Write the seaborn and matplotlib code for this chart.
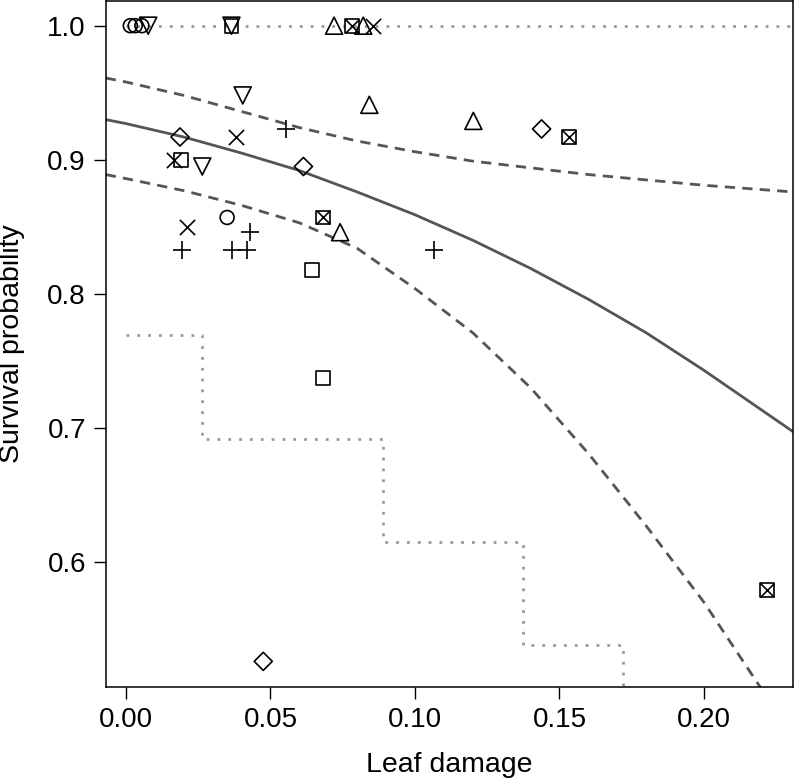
import numpy as np
import pandas as pd
import matplotlib
matplotlib.use("Agg")
import matplotlib.pyplot as plt
import seaborn as sns

# Observed survival by plot, one list pair per plotting symbol
circle_x = [0.0015, 0.0032, 0.0055, 0.035]
circle_y = [1.0, 1.0, 1.0, 0.857]
tri_up_x = [0.0720, 0.0821, 0.0842, 0.1202, 0.0741]
tri_up_y = [1.0, 1.0, 0.941, 0.929, 0.846]
plus_x = [0.0553, 0.0429, 0.0195, 0.0368, 0.0420, 0.1067]
plus_y = [0.923, 0.846, 0.833, 0.833, 0.833, 0.833]
cross_x = [0.0856, 0.0381, 0.0167, 0.0210]
cross_y = [1.0, 0.917, 0.900, 0.850]
diamond_x = [0.0187, 0.0614, 0.1438, 0.0475]
diamond_y = [0.917, 0.895, 0.923, 0.526]
tri_down_x = [0.0077, 0.0365, 0.0404, 0.0264]
tri_down_y = [1.0, 1.0, 0.948, 0.895]
square_x = [0.0365, 0.0190, 0.0645, 0.0683]
square_y = [1.0, 0.900, 0.818, 0.737]
boxx_x = [0.0781, 0.1534, 0.0683, 0.2217]
boxx_y = [1.0, 0.917, 0.857, 0.579]

# Fitted survival curve and its confidence band
fit_x = [-0.007, 0.00, 0.02, 0.04, 0.06, 0.08, 0.10, 0.12, 0.14, 0.16, 0.18, 0.20, 0.231]
fit_y = [0.930, 0.927, 0.917, 0.905, 0.892, 0.876, 0.859, 0.840, 0.819, 0.796, 0.771, 0.743, 0.697]
upper_y = [0.961, 0.958, 0.948, 0.936, 0.924, 0.914, 0.906, 0.899, 0.894, 0.889, 0.885, 0.881, 0.876]
lower_x = [-0.007, 0.00, 0.02, 0.04, 0.06, 0.08, 0.10, 0.12, 0.14, 0.16, 0.18, 0.20, 0.22]
lower_y = [0.889, 0.886, 0.877, 0.866, 0.853, 0.834, 0.804, 0.771, 0.730, 0.681, 0.627, 0.570, 0.505]

# Bounds: upper flat at 1, lower as a step function
bound_hi_x = [0.0, 0.231]
bound_hi_y = [1.0, 1.0]
bound_lo_x = [0.0, 0.0262, 0.0890, 0.1373, 0.1720]
bound_lo_y = [0.769, 0.692, 0.615, 0.538, 0.462]

x_ticks = [0.00, 0.05, 0.10, 0.15, 0.20]
y_ticks = [0.6, 0.7, 0.8, 0.9, 1.0]

sns.set_theme(style="white")
plt.rcParams['font.family'] = ['Liberation Sans', 'DejaVu Sans']

fig = plt.figure(figsize=(7.96, 7.80), dpi=100)
ax = fig.add_axes([0.1332, 0.1196, 0.8627, 0.8791])

line_col = "#555555"
dot_col = "#999999"

sns.lineplot(x=bound_hi_x, y=bound_hi_y, estimator=None, sort=False, ax=ax,
             color=dot_col, lw=2.0, linestyle=(0, (1, 2.9)))
sns.lineplot(x=bound_lo_x, y=bound_lo_y, estimator=None, sort=False, ax=ax,
             color=dot_col, lw=2.0, linestyle=(0, (1, 2.9)), drawstyle="steps-post")
sns.lineplot(x=fit_x, y=upper_y, estimator=None, sort=False, ax=ax,
             color=line_col, lw=2.0, linestyle=(0, (3.7, 2.6)))
sns.lineplot(x=lower_x, y=lower_y, estimator=None, sort=False, ax=ax,
             color=line_col, lw=2.0, linestyle=(0, (3.7, 2.6)))
sns.lineplot(x=fit_x, y=fit_y, estimator=None, sort=False, ax=ax,
             color=line_col, lw=2.0)

# open symbols
open_groups = [
    (circle_x, circle_y, "o", 100),
    (tri_up_x, tri_up_y, "^", 150),
    (diamond_x, diamond_y, "D", 85),
    (tri_down_x, tri_down_y, "v", 150),
    (square_x, square_y, "s", 100),
    (boxx_x, boxx_y, "s", 100),
]
for xs, ys, m, s in open_groups:
    df = pd.DataFrame({"x": xs, "y": ys})
    sns.scatterplot(data=df, x="x", y="y", marker=m, s=s, facecolor="none",
                    edgecolor="black", linewidth=1.2, ax=ax, zorder=5)

# line-art symbols
line_groups = [
    (plus_x, plus_y, "+", 170),
    (cross_x, cross_y, "x", 120),
    (boxx_x, boxx_y, "x", 100),
]
for xs, ys, m, s in line_groups:
    df = pd.DataFrame({"x": xs, "y": ys})
    sns.scatterplot(data=df, x="x", y="y", marker=m, s=s, color="black",
                    linewidth=1.2, ax=ax, zorder=5)

ax.set_xlim(-0.0069, 0.2307)
ax.set_ylim(0.5071, 1.0184)
ax.set_xticks(x_ticks)
ax.set_xticklabels([f"{v:.2f}" for v in x_ticks])
ax.set_yticks(y_ticks)
ax.set_yticklabels([f"{v:.1f}" for v in y_ticks])
ax.tick_params(axis="both", which="major", direction="out", length=8.5, width=1,
               color="black", labelsize=20, labelcolor="black",
               bottom=True, left=True, pad=6)

for sp in ax.spines.values():
    sp.set_color("black")
    sp.set_linewidth(1.1)
    sp.set_visible(True)

ax.set_xlabel("Leaf damage", fontsize=20.5, color="black")
ax.set_ylabel("Survival probability", fontsize=20.5, color="black")
ax.xaxis.set_label_coords(0.5, -0.1137)
ax.xaxis.label.set_va("center")
ax.yaxis.set_label_coords(-0.137, 0.5)
ax.yaxis.label.set_va("center")

fig.savefig("out.png", dpi=100)
